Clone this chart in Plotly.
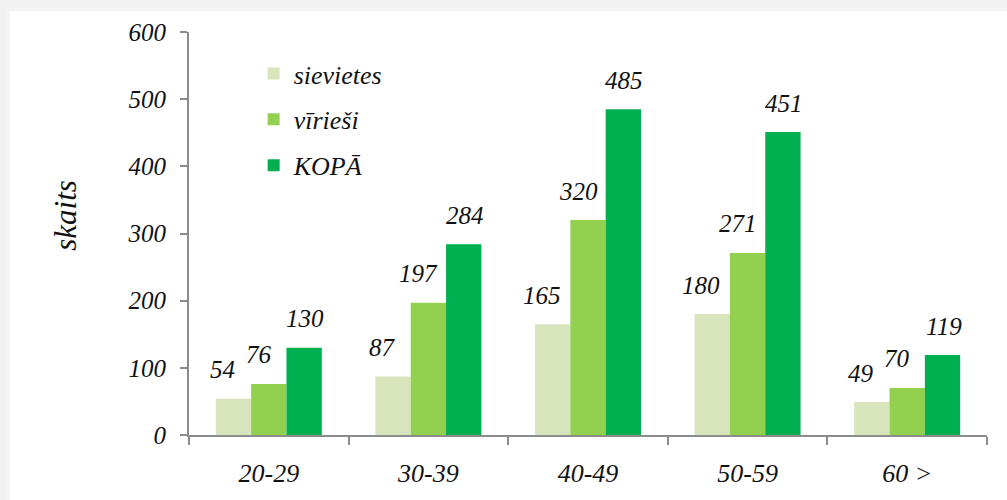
import plotly.graph_objects as go

categories = ["20-29", "30-39", "40-49", "50-59", "60 >"]
sievietes = [54, 87, 165, 180, 49]
virieši = [76, 197, 320, 271, 70]
kopa = [130, 284, 485, 451, 119]
series_names = ["sievietes", "vīrieši", "KOPĀ"]
series_values = [sievietes, virieši, kopa]
series_colors = ["#d8e4bc", "#92d050", "#00b050"]
y_ticks = [0, 100, 200, 300, 400, 500, 600]

FONT = "Liberation Serif"

fig = go.Figure()
for name, vals, col in zip(series_names, series_values, series_colors):
    fig.add_trace(go.Bar(
        x=categories, y=vals, name=name, legendgroup=name,
        marker=dict(color=col, line=dict(width=0)),
    ))

# data labels (annotations, anchored to data coordinates)
bar_px = 35.4
label_dx = [-11, -10, 1]
for i, vals in enumerate(series_values):
    for c, v in zip(categories, vals):
        fig.add_annotation(
            x=c, y=v, xref="x", yref="y", text=str(v), showarrow=False,
            xshift=(i - 1) * bar_px + label_dx[i], yshift=29, yanchor="middle",
            font=dict(family=FONT, size=25, color="#111111", style="italic"),
        )

# y title
fig.add_annotation(
    x=(66 - 189) / 798, y=(440 - 218) / 408, xref="paper", yref="paper",
    xanchor="center", yanchor="middle",
    text="skaits", showarrow=False, textangle=-90,
    font=dict(family=FONT, size=31, color="#111111", style="italic"),
)

fig.update_layout(
    width=1007, height=500,
    margin=dict(l=189, r=20, t=32, b=60),
    paper_bgcolor="#f1f1f1",
    plot_bgcolor="rgba(0,0,0,0)",
    barmode="group", bargap=0.336, bargroupgap=0,
    font=dict(family=FONT, color="#111111", style="italic"),
    showlegend=True,
    legend=dict(
        x=0.081, y=0.955, xanchor="left", yanchor="top",
        bgcolor="rgba(0,0,0,0)", font=dict(family=FONT, size=26, style="italic"),
        tracegroupgap=9, traceorder="grouped",
    ),
    xaxis=dict(
        showline=True, linecolor="#8c8c8c", linewidth=2,
        ticks="outside", ticklen=8, tickcolor="#8c8c8c", tickwidth=2,
        tickson="boundaries", showgrid=False,
        tickfont=dict(family=FONT, size=26, style="italic"),
        ticklabelstandoff=14,
    ),
    yaxis=dict(
        range=[0, 600], tickvals=y_ticks,
        showline=True, linecolor="#8c8c8c", linewidth=2,
        ticks="outside", ticklen=7, tickcolor="#8c8c8c", tickwidth=2,
        showgrid=False, zeroline=False,
        tickfont=dict(family=FONT, size=25, style="italic"),
        ticklabelstandoff=9,
    ),
)

# white panel behind the chart, with a soft edge
for k, col in enumerate(["#e9e9e9", "#ededed", "#f4f4f4"]):
    fig.add_shape(type="rect", xref="paper", yref="paper",
                  x0=(9 - k - 189) / 798, x1=1.1, y0=-0.3, y1=(440 - 10 + k) / 408,
                  fillcolor=col, line=dict(width=0), layer="below")
fig.add_shape(type="rect", xref="paper", yref="paper",
              x0=(10 - 189) / 798, x1=1.1, y0=-0.3, y1=(440 - 11) / 408,
              fillcolor="white", line=dict(width=0), layer="below")
# short extension of the x axis line to the left of the y axis
fig.add_shape(type="line", xref="paper", yref="paper",
              x0=(182 - 189) / 798, x1=0, y0=0, y1=0,
              line=dict(color="#8c8c8c", width=2))

fig.write_html(
    "out.html",
    config={"displayModeBar": False},
    post_script="document.body.style.margin='0px';document.body.style.background='#f1f1f1';",
)
